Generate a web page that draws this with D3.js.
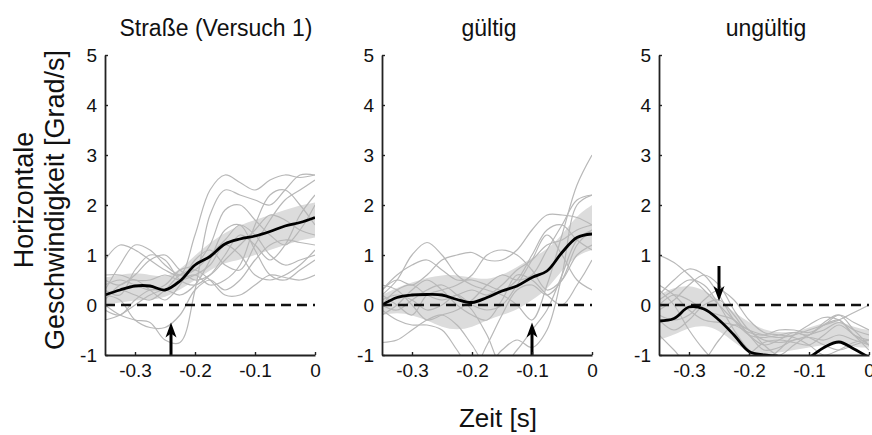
<!DOCTYPE html>
<html>
<head>
<meta charset="utf-8">
<script src="https://cdn.jsdelivr.net/npm/d3@7"></script>
<style>
  body { margin: 0; background: #fff; }
  svg { display: block; }
  text { font-family: "Liberation Sans", Arial, Helvetica, sans-serif; fill: #111; }
</style>
</head>
<body>
<svg id="chart" width="872" height="435"></svg>
<script>
// time samples (s), shared by every series
var times = [-0.35, -0.325, -0.3, -0.275, -0.25, -0.225, -0.2, -0.175, -0.15, -0.125, -0.1, -0.075, -0.05, -0.025, 0];

var panelTitles = ["Straße (Versuch 1)", "gültig", "ungültig"];
var yTicks = [-1, 0, 1, 2, 3, 4, 5];
var xTicks = [-0.3, -0.2, -0.1, 0];

// mean traces
var meanStrasse = [0.2, 0.3, 0.38, 0.38, 0.3, 0.48, 0.8, 0.97, 1.22, 1.32, 1.38, 1.47, 1.58, 1.65, 1.75];
var meanGueltig = [0.0, 0.15, 0.2, 0.21, 0.2, 0.11, 0.05, 0.15, 0.28, 0.38, 0.55, 0.68, 1.05, 1.35, 1.42];
var meanUngueltig = [-0.32, -0.27, -0.04, -0.08, -0.3, -0.6, -0.93, -1.0, -1.03, -1.15, -1.05, -0.85, -0.74, -0.88, -1.05];

// shaded error band (lower / upper)
var bandLoStrasse = [0.0, 0.05, 0.1, 0.1, 0.15, 0.3, 0.5, 0.7, 0.85, 0.9, 1.0, 1.1, 1.2, 1.3, 1.35];
var bandHiStrasse = [0.55, 0.6, 0.65, 0.6, 0.55, 0.7, 1.0, 1.25, 1.45, 1.6, 1.7, 1.8, 1.9, 2.0, 2.05];
var bandLoGueltig = [-0.2, -0.15, -0.2, -0.3, -0.45, -0.5, -0.45, -0.3, -0.2, -0.1, 0.1, 0.3, 0.7, 1.0, 1.1];
var bandHiGueltig = [0.2, 0.35, 0.45, 0.55, 0.6, 0.6, 0.55, 0.5, 0.6, 0.75, 0.95, 1.1, 1.4, 1.8, 2.0];
var bandLoUngueltig = [-0.7, -0.6, -0.45, -0.4, -0.5, -0.75, -0.95, -1.0, -0.95, -0.9, -0.85, -0.8, -0.75, -0.85, -0.85];
var bandHiUngueltig = [0.2, 0.35, 0.4, 0.3, 0.1, -0.15, -0.35, -0.5, -0.55, -0.55, -0.45, -0.35, -0.3, -0.45, -0.5];

// single trials
var trialsStrasse = [
  [0.9, 1.2, 1.1, 0.9, 0.7, 0.6, 1.4, 2.3, 2.6, 2.45, 2.3, 2.5, 2.6, 2.55, 2.6],
  [0.0, -0.2, -0.3, -0.35, -0.7, -0.75, 0.3, 1.8, 2.3, 2.2, 2.1, 2.0, 2.3, 2.6, 2.6],
  [0.4, 0.5, 0.4, 0.3, 0.4, 0.7, 0.8, 1.2, 1.9, 2.0, 1.7, 1.4, 1.2, 1.5, 2.0],
  [0.3, 0.8, 1.2, 1.1, 0.8, 0.6, 0.7, 1.0, 1.3, 1.6, 1.4, 1.0, 0.8, 0.9, 1.0],
  [-0.3, -0.2, 0.0, 0.2, 0.3, 0.2, 0.4, 0.9, 1.5, 1.6, 1.1, 0.6, 0.5, 0.7, 0.9],
  [0.5, 0.4, 0.6, 0.9, 1.0, 0.7, 0.5, 0.6, 0.9, 1.2, 1.5, 1.8, 1.7, 1.5, 1.4],
  [0.2, 0.1, -0.3, -0.45, -0.45, -0.2, 0.3, 0.5, 0.3, 0.5, 0.9, 1.2, 1.3, 1.25, 1.2],
  [-0.1, -0.2, 0.1, 0.3, 0.3, 0.5, 0.6, 0.4, 0.5, 0.8, 1.6, 2.2, 2.3, 2.0, 1.6],
  [0.6, 0.6, 0.5, 0.5, 0.6, 0.5, 0.6, 0.8, 1.2, 1.0, 0.6, 0.5, 0.6, 0.8, 1.1],
  [0.1, 0.4, 0.5, 0.3, 0.1, 0.4, 0.9, 1.1, 0.8, 0.7, 1.2, 1.7, 2.1, 2.3, 2.5],
  [0.3, 0.2, 0.7, 1.0, 0.9, 0.5, 0.4, 0.6, 1.0, 1.4, 1.2, 0.9, 1.2, 1.8, 2.2],
  [0.2, 0.3, 0.2, 0.1, 0.3, 0.6, 0.7, 0.5, 0.2, 0.2, 0.4, 0.6, 0.55, 0.5, 0.6]
];
var trialsGueltig = [
  [0.2, 0.5, 1.0, 1.25, 1.0, 0.6, 0.4, 0.3, 0.2, 0.0, -0.3, 0.4, 1.4, 2.4, 3.0],
  [0.3, 0.5, 0.4, 0.6, 0.9, 1.0, 1.05, 0.9, 0.9, 1.1, 1.5, 1.8, 1.8, 1.75, 1.6],
  [-0.75, -0.7, -0.5, -0.3, -0.2, -0.4, -0.8, -1.2, -0.9, -0.7, -0.85, -0.5, 0.6, 2.0, 2.2],
  [0.0, 0.3, 0.4, 0.2, 0.1, 0.2, 0.3, 0.2, 0.4, 0.7, 0.9, 1.2, 1.3, 1.5, 1.6],
  [0.3, 0.6, 0.8, 0.9, 0.7, 0.5, 0.5, 0.4, 0.3, 0.5, 1.0, 1.5, 1.6, 1.3, 1.1],
  [-0.1, -0.3, -0.4, -0.4, -0.5, -0.9, -1.3, -0.8, -0.2, 0.3, 0.4, 0.2, 0.5, 1.2, 1.5],
  [0.1, 0.2, 0.1, -0.1, 0.0, 0.2, 0.0, -0.1, 0.0, 0.4, 0.9, 1.4, 1.0, 0.5, 0.3],
  [0.2, 0.0, -0.2, 0.2, 0.3, 0.4, 0.6, 1.0, 1.1, 1.0, 0.7, 0.3, 0.5, 1.0, 1.2],
  [0.0, -0.1, 0.1, 0.3, 0.4, 0.2, -0.1, -0.6, -1.2, -0.9, -0.5, -0.1, 0.6, 1.3, 1.5],
  [-0.2, 0.0, 0.3, 0.5, 0.3, 0.0, -0.2, -0.3, 0.1, 0.6, 0.5, 0.2, 0.0, 0.4, 0.9],
  [0.4, 0.3, 0.0, -0.3, -0.2, -0.1, 0.1, 0.4, 0.6, 0.5, 0.6, 1.1, 1.6, 2.1, 2.2]
];
var trialsUngueltig = [
  [1.0, 0.85, 0.6, 0.3, 0.0, -0.3, -0.5, -0.6, -0.65, -0.6, -0.5, -0.4, -0.3, -0.15, 0.0],
  [0.2, 0.5, 0.72, 0.6, 0.2, -0.3, -0.6, -0.65, -0.6, -0.55, -0.6, -0.35, -0.2, -0.5, -0.8],
  [-0.1, 0.1, 0.4, 0.6, 0.4, -0.1, -0.5, -0.7, -0.75, -0.7, -0.6, -0.4, -0.3, -0.6, -0.7],
  [0.0, 0.2, 0.1, -0.1, -0.2, -0.3, -0.6, -0.9, -0.85, -0.7, -0.65, -0.7, -0.6, -0.7, -0.8],
  [-0.3, -0.5, -0.3, 0.0, 0.1, -0.2, -0.6, -0.8, -0.7, -0.55, -0.65, -0.8, -0.9, -0.8, -0.7],
  [0.3, 0.0, -0.5, -0.9, -1.2, -1.3, -1.0, -0.75, -0.7, -0.75, -0.8, -0.6, -0.4, -0.6, -0.8],
  [-0.6, -0.9, -1.2, -1.1, -0.7, -0.4, -0.5, -0.8, -1.0, -0.8, -0.6, -0.5, -0.35, -0.5, -0.6],
  [0.1, 0.3, 0.5, 0.4, 0.0, -0.5, -0.9, -1.1, -0.9, -0.6, -0.4, -0.25, -0.3, -0.6, -0.9],
  [-0.2, -0.3, -0.2, 0.1, 0.3, 0.1, -0.3, -0.55, -0.6, -0.65, -0.8, -1.0, -0.9, -0.75, -0.7],
  [0.4, 0.2, -0.1, -0.3, -0.35, -0.4, -0.55, -0.6, -0.5, -0.5, -0.55, -0.4, -0.2, -0.35, -0.5]
];

// arrow markers: time, start value, tip value
var arrowTime = [-0.24, -0.1, -0.25];
var arrowFrom = [-1, -1, 0.78];
var arrowTo = [-0.35, -0.35, 0.08];

var panels = [
  { title: panelTitles[0], mean: meanStrasse, lo: bandLoStrasse, hi: bandHiStrasse, trials: trialsStrasse },
  { title: panelTitles[1], mean: meanGueltig, lo: bandLoGueltig, hi: bandHiGueltig, trials: trialsGueltig },
  { title: panelTitles[2], mean: meanUngueltig, lo: bandLoUngueltig, hi: bandHiUngueltig, trials: trialsUngueltig }
];

var svg = d3.select("#chart");
var panelLeft = [105, 382, 659], panelW = 210, plotTop = 55, plotBottom = 355;

var y = d3.scaleLinear().domain([-1, 5]).range([plotBottom, plotTop]);
var fmt = function (d) { return d === 0 ? "0" : String(d); };

panels.forEach(function (p, i) {
  var x = d3.scaleLinear().domain([-0.35, 0]).range([panelLeft[i], panelLeft[i] + panelW]);
  var g = svg.append("g");

  g.append("clipPath").attr("id", "clip" + i)
    .append("rect").attr("x", panelLeft[i]).attr("y", plotTop)
    .attr("width", panelW).attr("height", plotBottom - plotTop);
  var plot = g.append("g").attr("clip-path", "url(#clip" + i + ")");

  // error band
  var area = d3.area()
    .x(function (d, k) { return x(times[k]); })
    .y0(function (d, k) { return y(p.lo[k]); })
    .y1(function (d, k) { return y(p.hi[k]); })
    .curve(d3.curveBasis);
  plot.append("path").datum(p.lo).attr("d", area).attr("fill", "#dcdcdc");

  var line = d3.line()
    .x(function (d, k) { return x(times[k]); })
    .y(function (d) { return y(d); })
    .curve(d3.curveCatmullRom.alpha(0.5));

  // single trials
  plot.selectAll(".trial").data(p.trials).enter().append("path")
    .attr("d", line).attr("fill", "none")
    .attr("stroke", "#b8b8b8").attr("stroke-width", 1.2);

  // zero line
  plot.append("line")
    .attr("x1", x(-0.35)).attr("x2", x(0)).attr("y1", y(0)).attr("y2", y(0))
    .attr("stroke", "#111").attr("stroke-width", 2.6).attr("stroke-dasharray", "10,6");

  // mean
  plot.append("path").datum(p.mean).attr("d", line).attr("fill", "none")
    .attr("stroke", "#000").attr("stroke-width", 2.8);

  // arrow
  var ax = x(arrowTime[i]), y0 = y(arrowFrom[i]), y1 = y(arrowTo[i]);
  var dir = y1 < y0 ? 1 : -1; // 1 = pointing up
  g.append("line").attr("x1", ax).attr("x2", ax).attr("y1", y0).attr("y2", y1 + dir * 10)
    .attr("stroke", "#000").attr("stroke-width", 3);
  g.append("path")
    .attr("d", "M" + ax + "," + y1 + "L" + (ax - 5.5) + "," + (y1 + dir * 15) +
      "L" + ax + "," + (y1 + dir * 11) + "L" + (ax + 5.5) + "," + (y1 + dir * 15) + "Z")
    .attr("fill", "#000");

  // axes
  var yAxis = d3.axisLeft(y).tickValues(yTicks).tickSize(-3).tickSizeOuter(0).tickPadding(8)
    .tickFormat(fmt);
  var gy = g.append("g").attr("transform", "translate(" + panelLeft[i] + ",0)").call(yAxis);
  var xAxis = d3.axisBottom(x).tickValues(xTicks).tickSize(-3).tickSizeOuter(0).tickPadding(9)
    .tickFormat(fmt);
  var gx = g.append("g").attr("transform", "translate(0," + plotBottom + ")").call(xAxis);
  [gy, gx].forEach(function (a) {
    a.attr("font-size", 19).attr("font-family", "Liberation Sans, Arial, sans-serif");
    a.select(".domain").attr("stroke", "#222").attr("stroke-width", 1.8);
    a.selectAll(".tick line").attr("stroke", "#222").attr("stroke-width", 1.4);
    a.selectAll(".tick text").attr("fill", "#111");
  });
  gy.selectAll(".tick text").attr("dy", "0.36em");

  // title
  g.append("text").attr("x", panelLeft[i] + panelW / 2 + (i === 0 ? 6 : 2)).attr("y", 36)
    .attr("text-anchor", "middle").attr("font-size", 23).text(p.title);
});

// axis titles
svg.append("text").attr("transform", "translate(33,200) rotate(-90)")
  .attr("text-anchor", "middle").attr("font-size", 27).text("Horizontale");
svg.append("text").attr("transform", "translate(64,200) rotate(-90)")
  .attr("text-anchor", "middle").attr("font-size", 27).text("Geschwindigkeit [Grad/s]");
svg.append("text").attr("x", 498).attr("y", 427)
  .attr("text-anchor", "middle").attr("font-size", 26).text("Zeit [s]");
</script>
</body>
</html>
